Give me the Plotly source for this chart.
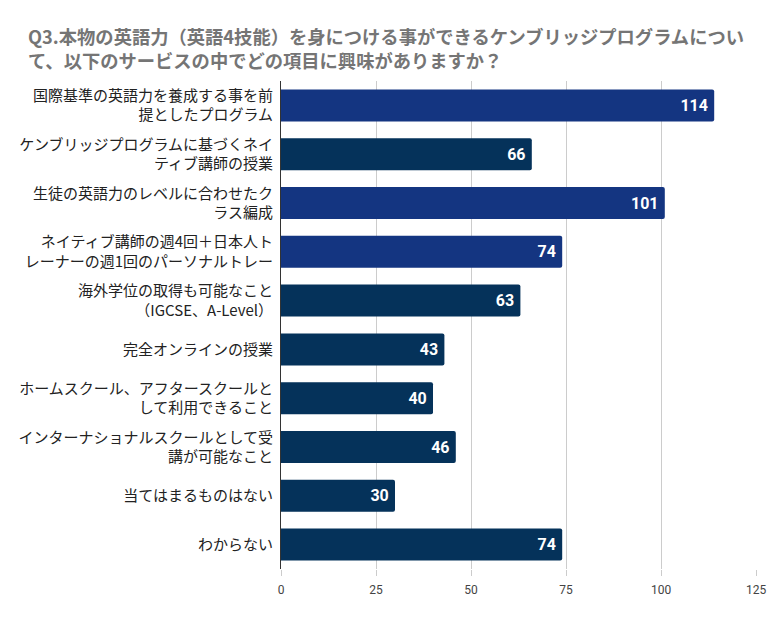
import plotly.graph_objects as go

# Survey answers (Q3), top to bottom as shown
categories = [
    "国際基準の英語力を養成する事を前<br>提としたプログラム",
    "ケンブリッジプログラムに基づくネイ<br>ティブ講師の授業",
    "生徒の英語力のレベルに合わせたク<br>ラス編成",
    "ネイティブ講師の週4回＋日本人ト<br>レーナーの週1回のパーソナルトレー",
    "海外学位の取得も可能なこと<br>（IGCSE、A-Level）",
    "完全オンラインの授業",
    "ホームスクール、アフタースクールと<br>して利用できること",
    "インターナショナルスクールとして受<br>講が可能なこと",
    "当てはまるものはない",
    "わからない",
]
counts = [114, 66, 101, 74, 63, 43, 40, 46, 30, 74]
highlight = [True, False, True, True, False, False, False, False, False, False]

x_ticks = [0, 25, 50, 75, 100, 125]

title_text = ("Q3.本物の英語力（英語4技能）を身につける事ができるケンブリッジプログラムについ"
              "<br>て、以下のサービスの中でどの項目に興味がありますか？")

LIGHT = "#143581"
DARK = "#05325a"
bar_colors = [LIGHT if h else DARK for h in highlight]

JP = "Noto Sans CJK JP"

# page body has an 8px margin, so the figure is a bit smaller than the window
W, H = 765, 624
L, T = 273, 73
PW, PH = 475.5, 488

fig = go.Figure()
fig.add_trace(go.Bar(
    x=counts,
    y=categories,
    orientation="h",
    marker=dict(color=bar_colors, cornerradius=2, line=dict(width=0)),
    text=[f"{v}\u2009" for v in counts],
    textposition="inside",
    insidetextanchor="end",
    textfont=dict(family="Roboto", size=16, color="white", weight="bold"),
    hoverinfo="x+y",
))

fig.update_layout(
    width=W, height=H,
    margin=dict(l=L, r=W - L - PW, t=T, b=H - T - PH),
    paper_bgcolor="white",
    plot_bgcolor="white",
    bargap=0.345,
    showlegend=False,
    title=dict(
        text=title_text,
        x=20 / W, xanchor="left", xref="container",
        y=1 - 36 / H, yanchor="middle", yref="container",
        font=dict(family=JP, size=18.3, color="#757575", weight="bold"),
    ),
)

fig.update_xaxes(
    range=[0, 125],
    tickvals=x_ticks,
    automargin=False,
    showgrid=True, gridcolor="#cccccc", gridwidth=1,
    zeroline=False,
    showline=False,
    ticks="outside", ticklen=6, tickcolor="#cccccc",
    ticklabelstandoff=4,
    tickfont=dict(family="Roboto", size=12, color="#444444"),
)
fig.update_yaxes(
    autorange="reversed",
    automargin=False,
    showline=True, linecolor="#333333", linewidth=1,
    ticks="",
    ticklabelstandoff=4,
    tickfont=dict(family=JP, size=15, color="#222222"),
)

fig.write_html("out.html")
